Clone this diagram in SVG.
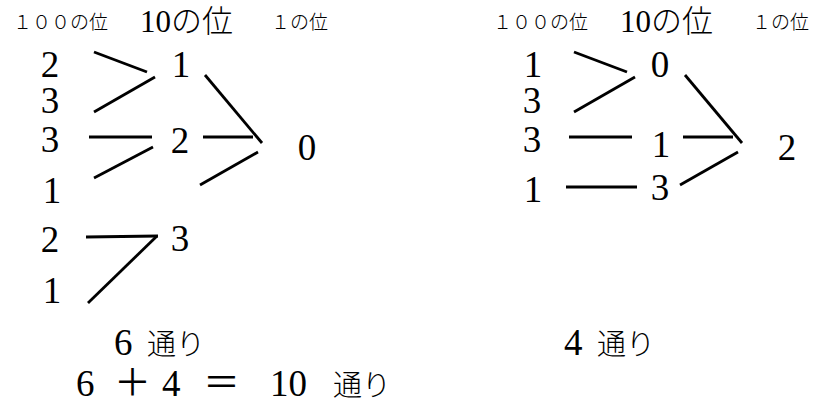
<svg xmlns="http://www.w3.org/2000/svg" width="822" height="403" viewBox="0 0 822 403">
<style>
.d{font-family:"Liberation Serif","Noto Sans CJK JP",serif;font-size:37px;fill:#000;text-anchor:middle}
.hs{font-family:"Liberation Serif","Noto Sans CJK JP",serif;font-size:19px;fill:#000;font-weight:300}
.hb{font-family:"Liberation Serif","Noto Sans CJK JP",serif;font-size:31px;fill:#000;font-weight:300}
.t{font-family:"Liberation Serif","Noto Sans CJK JP",serif;font-size:37px;fill:#000}
.k{font-family:"Noto Sans CJK JP",sans-serif;font-size:29px;font-weight:300}
.c line{stroke:#000;stroke-width:2.8;stroke-linecap:butt}
</style>
<rect width="822" height="403" fill="#fff"/>
<g id="headers">
<text class="hs" x="13" y="29">１００の位</text>
<text class="hb" x="140" y="32">10の位</text>
<text class="hs" x="271" y="29">１の位</text>
<text class="hs" x="493" y="29">１００の位</text>
<text class="hb" x="620" y="32">10の位</text>
<text class="hs" x="752" y="29">１の位</text>
</g>
<g id="left-hundreds">
<g id="L-h1"><text class="d" x="50" y="77">2</text></g>
<g id="L-h2"><text class="d" x="50" y="113">3</text></g>
<g id="L-h3"><text class="d" x="50" y="152">3</text></g>
<g id="L-h4"><text class="d" x="52" y="203">1</text></g>
<g id="L-h5"><text class="d" x="50" y="252">2</text></g>
<g id="L-h6"><text class="d" x="52" y="303">1</text></g>
</g>
<g id="left-tens">
<g id="L-t1"><text class="d" x="181" y="77">1</text></g>
<g id="L-t2"><text class="d" x="180" y="153">2</text></g>
<g id="L-t3"><text class="d" x="180" y="251">3</text></g>
</g>
<g id="L-o1"><text class="d" x="307" y="160">0</text></g>
<g id="right-hundreds">
<g id="R-h1"><text class="d" x="533" y="77">1</text></g>
<g id="R-h2"><text class="d" x="532" y="113">3</text></g>
<g id="R-h3"><text class="d" x="532" y="152">3</text></g>
<g id="R-h4"><text class="d" x="533" y="202">1</text></g>
</g>
<g id="right-tens">
<g id="R-t1"><text class="d" x="660" y="77">0</text></g>
<g id="R-t2"><text class="d" x="661" y="157">1</text></g>
<g id="R-t3"><text class="d" x="660" y="200">3</text></g>
</g>
<g id="R-o1"><text class="d" x="787" y="160">2</text></g>
<g id="connectors" class="c">
<line x1="94" y1="52" x2="147" y2="72"/>
<line x1="94" y1="112" x2="155" y2="77"/>
<line x1="89" y1="137" x2="152" y2="137"/>
<line x1="94" y1="178" x2="153" y2="147"/>
<line x1="86" y1="237" x2="158" y2="236"/>
<line x1="88" y1="303" x2="157" y2="236"/>
<line x1="205" y1="75" x2="262" y2="143"/>
<line x1="203" y1="137" x2="253" y2="137"/>
<line x1="200" y1="185" x2="258" y2="152"/>
<line x1="574" y1="52" x2="627" y2="72"/>
<line x1="574" y1="112" x2="635" y2="77"/>
<line x1="569" y1="137" x2="632" y2="137"/>
<line x1="566" y1="187" x2="637" y2="187"/>
<line x1="685" y1="75" x2="742" y2="143"/>
<line x1="683" y1="137" x2="733" y2="137"/>
<line x1="680" y1="185" x2="738" y2="152"/>
</g>
<g id="totals">
<text class="t" x="114" y="355">6<tspan class="k" x="147">通り</tspan></text>
<text class="t" x="564" y="355">4<tspan class="k" x="597">通り</tspan></text>
<text class="t" x="76" y="396">6<tspan x="114">＋</tspan><tspan x="162">4</tspan><tspan x="203">＝</tspan><tspan x="270">10</tspan><tspan class="k" x="333">通り</tspan></text>
</g>
</svg>
